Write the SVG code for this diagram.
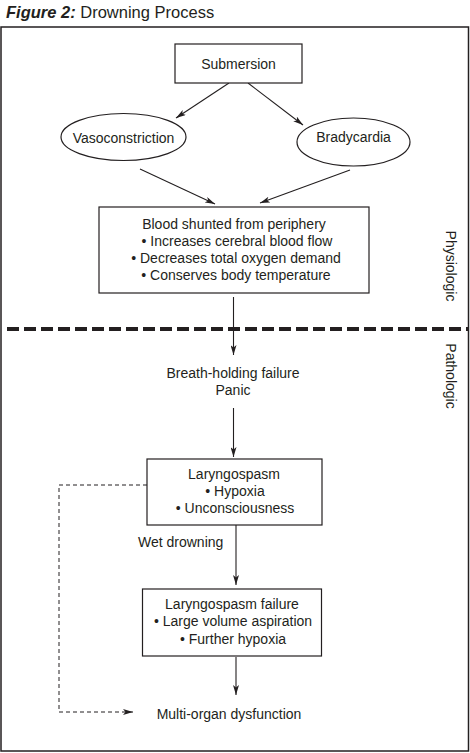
<svg xmlns="http://www.w3.org/2000/svg" width="470" height="753" viewBox="0 0 470 753">
<style>
text{font-family:"Liberation Sans",Arial,sans-serif;font-size:14px;fill:#231f20}
.c{text-anchor:middle}
.box{fill:#fff;stroke:#231f20;stroke-width:1.2}
.ln{stroke:#231f20;stroke-width:1.1;fill:none}
.dash{stroke:#231f20;stroke-width:1;fill:none;stroke-dasharray:4 3}
</style>
<defs>
<marker id="ah" viewBox="0 0 10 6" refX="10" refY="3" markerWidth="10" markerHeight="6" markerUnits="userSpaceOnUse" orient="auto">
<path d="M0,0 L10,3 L0,6 L2.5,3 Z" fill="#231f20"/>
</marker>
</defs>
<rect width="470" height="753" fill="#fff"/>
<text x="6" y="18" style="font-size:16.5px"><tspan font-weight="bold" font-style="italic">Figure 2:</tspan> Drowning Process</text>
<rect x="1" y="27" width="467.5" height="724" fill="none" stroke="#231f20" stroke-width="1.5"/>
<line x1="7" y1="329" x2="469" y2="329" stroke="#231f20" stroke-width="4" stroke-dasharray="12 5"/>
<text class="c" transform="translate(446,266) rotate(90)">Physiologic</text>
<text class="c" transform="translate(446,376) rotate(90)">Pathologic</text>
<g id="connectors">
<line class="ln" x1="229" y1="83" x2="176" y2="118" marker-end="url(#ah)"/>
<line class="ln" x1="248" y1="83" x2="303" y2="125" marker-end="url(#ah)"/>
<line class="ln" x1="140" y1="169" x2="215" y2="204" marker-end="url(#ah)"/>
<line class="ln" x1="350" y1="170" x2="260" y2="203" marker-end="url(#ah)"/>
<line class="ln" x1="233.5" y1="297" x2="233.5" y2="355" marker-end="url(#ah)"/>
<line class="ln" x1="233.5" y1="408" x2="233.5" y2="457" marker-end="url(#ah)"/>
<line class="ln" x1="236" y1="525" x2="236" y2="585" marker-end="url(#ah)"/>
<line class="ln" x1="236" y1="657" x2="236" y2="695" marker-end="url(#ah)"/>
<path class="dash" d="M147,485 H59 V712 H133" marker-end="url(#ah)"/>
</g>
<g id="submersion">
<rect class="box" x="175" y="44" width="127" height="39"/>
<text class="c" x="238.5" y="69">Submersion</text>
</g>
<g id="vasoconstriction">
<ellipse class="box" cx="123.5" cy="137" rx="62.5" ry="23.5"/>
<text class="c" x="123.5" y="143">Vasoconstriction</text>
</g>
<g id="bradycardia">
<ellipse class="box" cx="353.5" cy="142" rx="56.5" ry="24"/>
<text class="c" x="353.5" y="142">Bradycardia</text>
</g>
<g id="blood">
<rect class="box" x="99" y="207" width="270" height="86"/>
<text class="c" x="234" y="229">Blood shunted from periphery</text>
<text class="c" x="237" y="246">• Increases cerebral blood flow</text>
<text class="c" x="236" y="263">• Decreases total oxygen demand</text>
<text class="c" x="236" y="280">• Conserves body temperature</text>
</g>
<g id="breath">
<text class="c" x="233" y="378">Breath-holding failure</text>
<text class="c" x="233" y="395">Panic</text>
</g>
<g id="laryngospasm">
<rect class="box" x="147" y="459" width="175" height="66"/>
<text class="c" x="234" y="479">Laryngospasm</text>
<text class="c" x="235" y="496">• Hypoxia</text>
<text class="c" x="235" y="513">• Unconsciousness</text>
</g>
<text id="wet" x="138" y="547">Wet drowning</text>
<g id="laryngospasm-failure">
<rect class="box" x="142.5" y="589" width="179" height="67"/>
<text class="c" x="232" y="609">Laryngospasm failure</text>
<text class="c" x="233" y="626">• Large volume aspiration</text>
<text class="c" x="233" y="644">• Further hypoxia</text>
</g>
<text id="multi" class="c" x="229" y="719">Multi-organ dysfunction</text>
</svg>
